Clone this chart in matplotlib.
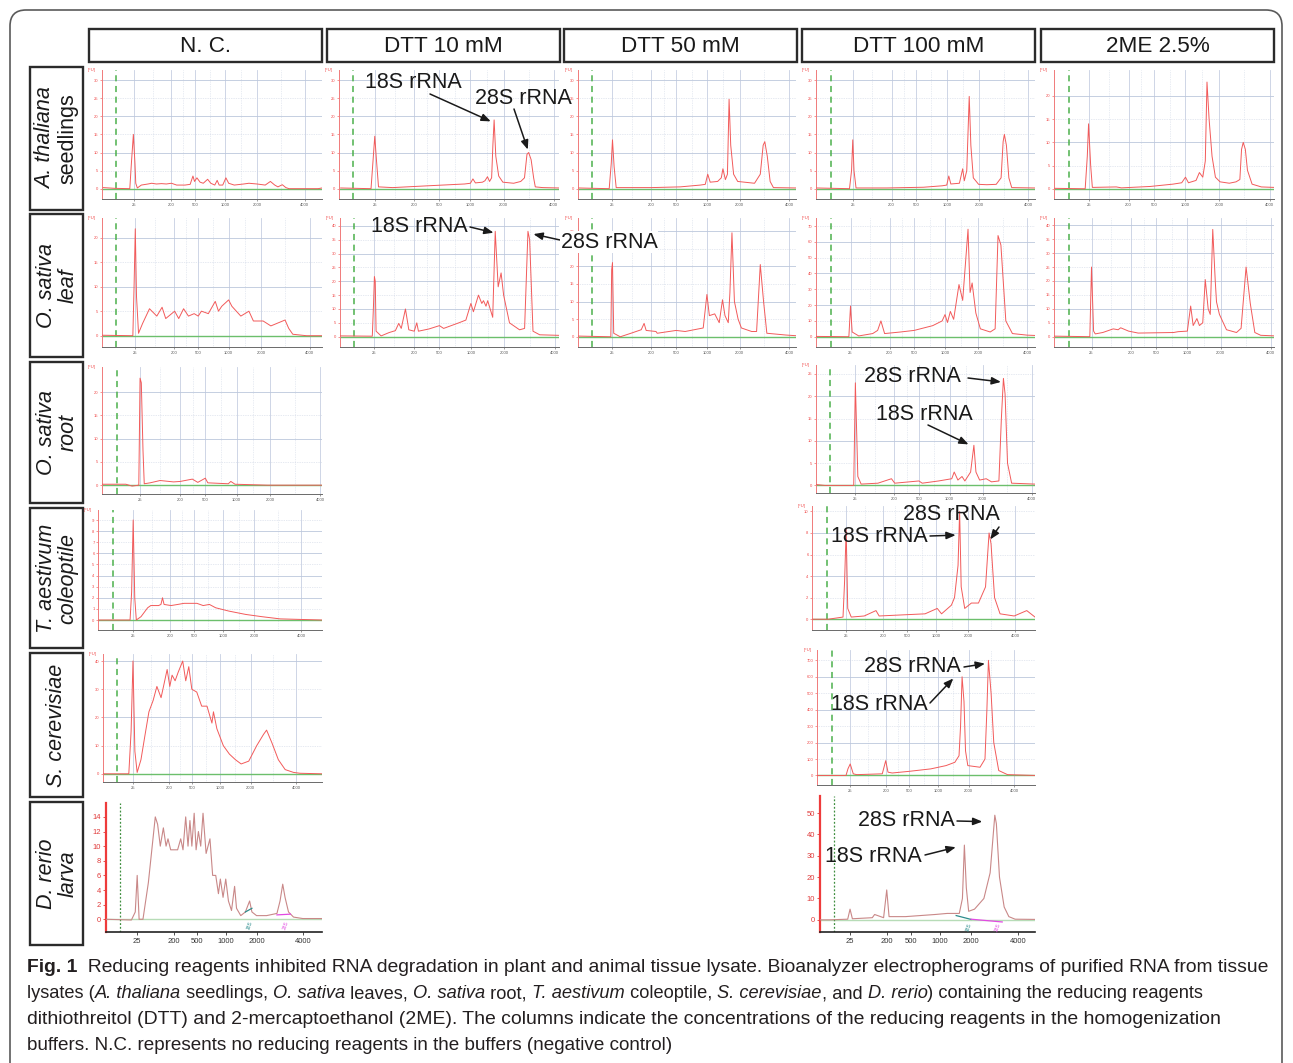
import matplotlib
matplotlib.use("Agg")
import numpy as np
import matplotlib.pyplot as plt
from matplotlib.patches import Rectangle, FancyBboxPatch
from matplotlib.transforms import IdentityTransform

W, H = 1293, 1063
FONT = ["Liberation Sans", "DejaVu Sans"]
plt.rcParams["font.family"] = FONT

# --- labels -----------------------------------------------------------------
COLUMNS = ["N. C.", "DTT 10 mM", "DTT 50 mM", "DTT 100 mM", "2ME 2.5%"]
ROW_LABELS = [("A. thaliana", "seedlings"), ("O. sativa", "leaf"), ("O. sativa", "root"),
              ("T. aestivum", "coleoptile"), ("S. cerevisiae", None), ("D. rerio", "larva")]
ROW_SECOND_ITALIC = [False, True, True, True, True, True]

# ladder sizes (nt) and their migration times (s)
SIZE_LABELS = ["25", "200", "500", "1000", "2000", "4000"]
SIZE_TIMES = [25, 34.5, 40.5, 48, 56, 68]

# --- traces: (time s, fluorescence FU) ------------------------------------------
AT_NC = [(17.3, 0.3), (20.2, 0.1), (24.0, 0), (24.4, 7), (24.9, 15), (25.3, 7), (25.5, 1.5),
         (25.9, 0.2), (26.9, 1), (28.6, 1.3), (29.5, 1.5), (30.7, 1.3), (32.0, 1.4), (33.2, 1.3),
         (34.5, 1.5), (35.8, 1.0), (37.9, 1.0), (39.2, 1.2), (39.9, 3.5), (40.3, 2.0), (40.9, 3.0),
         (41.7, 1.8), (42.5, 1.5), (43.6, 2.6), (44.4, 1.5), (45.4, 1.0), (46.0, 2.3), (46.5, 1.0),
         (47.4, 1.0), (48.2, 3.0), (48.9, 1.5), (50.3, 1.0), (52.7, 1.3), (54.0, 1.5), (56.0, 1.3),
         (58.1, 1.0), (59.4, 2.0), (60.5, 1.0), (61.3, 0.5), (62.4, 1.1), (63.3, 0.3), (64.1, 0),
         (71.4, 0), (72.4, 0.2)]
AT_DTT10 = [(16.8, 0.2), (24.1, 0), (24.6, 8), (25.0, 14.5), (25.4, 8), (25.9, 0.5), (29.3, 0.3),
            (37.8, 0.8), (46.6, 1.3), (48.0, 1.5), (48.6, 2.7), (49.2, 1.6), (50.9, 1.8), (51.5, 2.2),
            (52.1, 3.3), (52.6, 2.0), (53.1, 3.0), (53.4, 12), (53.7, 19), (54.1, 9), (54.8, 3.5),
            (55.8, 1.8), (58.4, 1.5), (60.1, 2.0), (61.0, 3.0), (61.6, 9.5), (62.0, 10), (62.6, 8),
            (63.2, 3), (63.6, 0.5), (65.4, 0.3), (69.3, 0.2)]
AT_DTT50 = [(16.8, 0.2), (24.2, 0), (24.7, 7), (25.0, 13.5), (25.4, 6), (25.9, 0.3), (34.5, 0.3),
            (41.5, 0.5), (46.4, 1.0), (47.6, 1.2), (48.2, 4.0), (48.8, 1.8), (50.6, 2.0), (51.5, 3.0),
            (51.9, 5.5), (52.5, 2.5), (53.0, 4.0), (53.4, 24.7), (53.8, 12), (54.5, 4), (55.5, 2),
            (59.6, 1.5), (61.0, 4), (61.7, 12), (62.1, 13), (62.7, 9), (63.4, 2), (64.2, 0.3),
            (69.8, 0.2)]
AT_DTT100 = [(16.2, 0.2), (24.2, 0), (24.7, 5), (25.0, 13.5), (25.3, 5), (25.8, 0.2), (33.4, 0.2),
             (42.3, 0.4), (46.9, 0.8), (48.0, 1.0), (48.5, 3.5), (49.0, 1.3), (51.1, 1.5), (51.6, 4),
             (51.9, 5.5), (52.3, 2.2), (52.9, 5), (53.5, 25.5), (53.9, 12), (54.5, 3), (55.8, 1.2),
             (57.8, 1.1), (60.1, 1.2), (61.3, 3), (61.8, 13), (62.1, 15), (62.6, 12), (63.2, 3),
             (63.9, 0.3), (69.6, 0.2)]
AT_2ME = [(17.0, 0.1), (24.2, 0), (24.7, 7), (25.0, 14), (25.5, 5), (25.9, 0.3), (31.6, 0.4),
          (32.8, 0.2), (39.6, 0.5), (45.0, 1.0), (47.1, 1.3), (48.0, 2.5), (48.7, 1.3), (50.5, 1.8),
          (51.3, 3.5), (52.1, 2.5), (52.7, 6), (53.1, 23), (53.6, 15), (54.3, 7), (55.1, 2.5),
          (56.2, 1.5), (58.4, 1.2), (60.0, 1.5), (60.9, 2), (61.3, 8.5), (61.7, 10), (62.2, 8.5),
          (62.7, 4), (63.8, 1), (66.0, 0.4), (69.0, 0.3)]

OS_LEAF_NC = [(16.8, 0.1), (24.4, 0), (24.7, 10), (25.0, 21.8), (25.3, 8), (25.8, 0.5), (26.8, 2.5),
              (28.5, 5.5), (30.3, 4), (31.6, 5.8), (32.5, 3.5), (34.7, 5), (35.7, 3.5), (36.9, 5.5),
              (38.1, 4), (39.5, 4.5), (40.5, 4), (41.3, 5), (43.0, 4.5), (44.7, 7), (45.5, 5),
              (46.3, 6), (48.0, 7.3), (48.8, 6), (51.0, 4), (53.0, 5), (54.1, 3), (56.5, 3),
              (58.4, 2), (61.9, 3.2), (62.8, 1.5), (63.8, 0.3), (67.2, 0), (71.0, 0)]
OS_LEAF_DTT10 = [(16.8, 0.3), (24.5, 0.2), (24.8, 12), (25.0, 21.7), (25.2, 20), (25.4, 2), (26.6, 0.3),
                 (28.5, 1.5), (30.0, 2.2), (30.8, 4.8), (31.4, 3), (32.4, 10), (33.2, 2.5), (34.5, 2),
                 (35.1, 5), (35.5, 2), (38.0, 2.8), (40.5, 4), (41.5, 3), (45.1, 5), (46.8, 6),
                 (48.0, 12), (48.6, 9), (49.8, 15), (50.6, 12), (51.0, 13), (51.6, 11), (52.0, 13),
                 (53.2, 7), (53.8, 38), (54.5, 18), (55.2, 23), (55.8, 15), (57.2, 5), (59.6, 2.5),
                 (60.8, 3), (61.6, 38), (62.0, 35), (62.8, 2), (64.4, 0.7), (69.0, 0.5)]
OS_LEAF_DTT50 = [(16.6, 0.2), (24.6, 0), (24.8, 19), (25.0, 21), (25.3, 1), (26.9, 0), (29.5, 1),
                 (32.0, 2), (32.7, 3.8), (33.2, 1.8), (35.6, 1.5), (35.9, 1), (40.5, 1.8), (42.7, 1.5),
                 (47.1, 2.5), (48.0, 12), (48.6, 6), (49.9, 6.5), (51.0, 4), (51.8, 10.5), (52.4, 6),
                 (53.2, 4), (53.6, 12.5), (54.1, 29.5), (54.7, 10), (55.6, 5), (56.4, 2.5), (58.9, 1.5),
                 (60.1, 1.5), (61.0, 20.5), (61.8, 10), (62.6, 1), (67.2, 0.5), (69.7, 0.3)]
OS_LEAF_DTT100 = [(16.6, 0.2), (24.6, 0), (25.0, 19.4), (25.4, 3), (27.0, 0.5), (30.4, 2), (31.6, 4),
                  (32.4, 10), (33.3, 2), (37.2, 3), (40.5, 4), (45.0, 7), (47.3, 10), (48.0, 14),
                  (48.6, 9), (49.3, 16), (50.1, 11), (51.4, 33), (52.3, 23), (53.6, 68), (54.1, 28),
                  (54.6, 34), (55.5, 15), (56.6, 5), (59.0, 3), (60.2, 5), (60.9, 64), (61.6, 58),
                  (62.8, 10), (64.4, 2), (68.0, 1), (69.9, 0.8)]
OS_LEAF_2ME = [(16.0, 0.2), (24.6, 0), (25.0, 25), (25.5, 2), (25.9, 1), (27.7, 1.5), (30.2, 2.8),
               (31.4, 2.5), (32.0, 3.2), (33.9, 2), (36.2, 1.3), (44.7, 1.5), (45.8, 1.8), (48.0, 2),
               (48.8, 11), (49.4, 4), (50.3, 6.5), (50.9, 4), (51.7, 5), (52.3, 20.5), (53.0, 10),
               (53.5, 8), (54.1, 38.5), (54.7, 20), (55.0, 12.5), (55.7, 8), (57.4, 2.5), (59.8, 1.5),
               (60.9, 3), (62.1, 25), (63.1, 12), (64.2, 1.5), (65.6, 0.5), (68.8, 0.3)]

OS_ROOT_NC = [(15.8, 0.2), (21.5, 0.2), (23.0, -0.2), (24.6, 0), (24.9, 23), (25.2, 22), (25.6, 7.5),
              (25.9, 0.3), (27.3, 0.5), (29.7, 1), (32.9, 0.7), (34.5, 0.8), (37.4, 1.3), (38.7, 0.6),
              (40.5, 1.5), (41.1, 0.5), (46.0, 0.3), (46.6, 0.8), (47.6, 0.2), (55.4, 0), (68.4, 0)]
OS_ROOT_DTT100 = [(15.4, 0.2), (17.6, 0), (24.6, 0), (25.0, 23), (25.6, 2), (26.4, 0.3), (30.5, 0.5),
                  (33.8, 1.5), (34.6, 0.5), (40.5, 1), (41.3, 0.5), (45.3, 1), (48.5, 1.5), (49.1, 3),
                  (50.0, 1.2), (51.0, 2), (51.7, 1), (53.1, 3), (53.9, 9), (54.4, 3), (55.3, 1.2),
                  (56.9, 1.5), (58.2, 0.8), (60.0, 1), (60.6, 15), (61.1, 24), (61.5, 20.5), (62.1, 5),
                  (63.1, 0.5), (68.8, 0.3)]

TA_NC = [(16.0, 0), (24.2, 0), (24.6, 2.5), (25.0, 9), (25.4, 2), (25.8, 0), (27.0, 0.3), (28.7, 1.1),
         (29.5, 1.3), (31.5, 1.3), (32.1, 1.4), (32.5, 2.0), (32.9, 1.4), (34.7, 1.3), (36.4, 1.4),
         (38.0, 1.5), (40.5, 1.5), (41.3, 1.5), (42.9, 1.3), (44.5, 1.4), (46.1, 1.1), (49.5, 0.8),
         (53.8, 0.5), (57.9, 0.3), (62.6, 0.1), (67.9, 0.05), (73.3, 0)]
TA_DTT100 = [(16.3, 0), (20.4, 0), (24.2, 0.2), (24.6, 3.5), (25.0, 8.3), (25.4, 1), (26.3, 0.2),
             (29.6, 0.3), (32.6, 0.8), (33.4, 0.3), (45.1, 0.5), (48.2, 1), (49.3, 0.5), (51.8, 1.3),
             (52.6, 2), (53.5, 5), (53.9, 10), (54.3, 3), (55.2, 1), (56.9, 1.5), (58.7, 1.5),
             (60.5, 3), (61.4, 8), (61.9, 7), (62.8, 2), (64.2, 0.5), (67.8, 0.3), (71.0, 0.8),
             (73.1, 0.2)]

SC_NC = [(17.1, 0), (23.9, 0), (24.5, 15), (25.0, 40), (25.5, 8), (26.1, 0.5), (27.1, 5), (28.2, 14),
         (29.2, 22), (30.3, 26), (31.3, 31), (32.4, 27), (34.0, 37), (34.7, 31), (35.3, 35), (36.1, 33),
         (36.9, 36), (38.1, 40), (38.9, 33), (39.7, 38), (40.5, 30), (41.8, 29), (43.1, 24),
         (44.5, 24), (45.8, 18), (46.2, 22), (47.1, 16), (48.8, 10), (50.4, 7), (52.0, 5),
         (53.5, 3.5), (55.5, 4.5), (57.6, 10), (59.4, 14), (60.2, 15.5), (61.6, 11), (63.3, 5),
         (65.1, 1.5), (67.3, 0.5), (69.0, 0.2), (74.8, 0)]
SC_DTT100 = [(16.3, 0), (23.9, 0), (24.4, 40), (25.0, 70), (25.8, 10), (26.7, 5), (33.4, 10), (34.3, 90),
             (34.9, 20), (36.0, 15), (40.4, 25), (46.1, 40), (50.1, 60), (52.4, 80), (53.5, 120),
             (53.9, 300), (54.3, 600), (54.8, 450), (55.2, 150), (55.8, 60), (59.0, 50), (60.3, 100),
             (60.8, 400), (61.2, 700), (61.9, 500), (62.6, 200), (63.9, 30), (66.2, 5), (73.4, 0)]

DR_NC = [(16.9, 0), (23.5, -0.1), (24.5, 1), (25.0, 6), (25.5, 0), (26.5, 0), (27.9, 5), (28.9, 10),
         (29.7, 14), (30.3, 13), (31.0, 10), (31.8, 12.5), (32.5, 10), (33.0, 11), (33.7, 9.5),
         (34.7, 9.5), (35.5, 9.5), (36.3, 11), (36.9, 9.5), (37.6, 14), (38.2, 10), (38.7, 13.5),
         (39.2, 10), (39.8, 14.5), (40.3, 9.5), (40.9, 12), (41.5, 10), (42.1, 14.5), (42.9, 9),
         (43.9, 11), (44.6, 6), (45.4, 6), (46.1, 3.5), (46.6, 5.5), (47.3, 3), (48.0, 5.5),
         (48.7, 2.5), (49.5, 1.2), (50.3, 4.5), (50.8, 1.5), (51.9, 0.5), (53.1, 1), (54.2, 2.5),
         (54.8, 1), (56.0, 0.5), (58.6, 0.5), (61.3, 0.8), (62.1, 2.5), (62.8, 4.8), (63.4, 3),
         (64.3, 1), (65.6, 0.3), (68.0, 0.1), (73.0, 0.1)]
DR_DTT100 = [(17.3, 0), (19.8, 0), (24.4, 0.3), (25.0, 5), (25.6, 0.5), (30.7, 1), (31.3, 2.5),
             (33.6, 1), (34.4, 14), (35.0, 1.5), (39.2, 1.5), (46.8, 2.5), (49.9, 3), (53.0, 3),
             (53.8, 10), (54.3, 35), (54.8, 15), (55.4, 4), (56.9, 5), (59.3, 10), (60.9, 22),
             (61.7, 40), (62.1, 49), (62.5, 45), (63.3, 20), (64.5, 6), (65.7, 1.5), (67.3, 0.3),
             (72.4, 0.2)]
# rRNA region markers of the zebrafish runs
DR_NC_18S = [(53.1, 1.0), (54.8, 1.5)]
DR_NC_28S = [(61.3, 0.6), (64.8, 0.7)]
DR_DTT100_18S = [(52.2, 2.0), (56.0, 0.2)]
DR_DTT100_28S = [(56.0, 0.3), (64.0, -1.0)]

# (row, col, trace, yticks, ylim, xlim, dashed-line time, pixel box L, R, T, B, style)
PANELS = [
    (0, 0, AT_NC, range(0, 31, 5), (-2.85, 32.8), (17.0, 72.4), 20.5, (102, 322, 70, 199), "bio"),
    (0, 1, AT_DTT10, range(0, 31, 5), (-2.85, 32.8), (16.4, 69.3), 19.8, (339, 559, 70, 199), "bio"),
    (0, 2, AT_DTT50, range(0, 31, 5), (-2.85, 32.8), (16.6, 69.7), 19.9, (578, 796, 70, 199), "bio"),
    (0, 3, AT_DTT100, range(0, 31, 5), (-2.85, 32.8), (16.0, 69.6), 19.6, (816, 1035, 70, 199), "bio"),
    (0, 4, AT_2ME, range(0, 21, 5), (-2.2, 25.6), (16.8, 69.0), 20.3, (1054, 1274, 70, 199), "bio"),
    (1, 0, OS_LEAF_NC, range(0, 21, 5), (-2.3, 24.0), (16.8, 71.0), 20.3, (102, 322, 218, 347), "bio"),
    (1, 1, OS_LEAF_DTT10, range(0, 41, 5), (-3.7, 42.8), (16.8, 69.0), 20.1, (340, 559, 218, 347), "bio"),
    (1, 2, OS_LEAF_DTT50, range(0, 31, 5), (-2.9, 33.7), (16.6, 69.7), 19.9, (578, 796, 218, 347), "bio"),
    (1, 3, OS_LEAF_DTT100, range(0, 71, 10), (-6.5, 75.1), (16.6, 69.9), 20.2, (816, 1035, 218, 347), "bio"),
    (1, 4, OS_LEAF_2ME, range(0, 41, 5), (-3.7, 42.6), (16.0, 68.8), 19.6, (1054, 1274, 218, 347), "bio"),
    (2, 0, OS_ROOT_NC, range(0, 21, 5), (-1.9, 25.4), (15.8, 68.4), 19.3, (102, 322, 367, 494), "bio"),
    (2, 3, OS_ROOT_DTT100, range(0, 26, 5), (-1.7, 27.0), (15.4, 68.8), 18.9, (816, 1035, 365, 493), "bio"),
    (3, 0, TA_NC, range(0, 10, 1), (-0.9, 9.9), (16.0, 73.3), 19.9, (98, 322, 510, 630), "bio"),
    (3, 3, TA_DTT100, range(0, 11, 2), (-1.0, 10.5), (16.3, 73.1), 20.2, (812, 1035, 506, 630), "bio"),
    (4, 0, SC_NC, range(0, 41, 10), (-2.9, 42.5), (17.1, 74.8), 20.8, (103, 322, 654, 782), "bio"),
    (4, 3, SC_DTT100, range(0, 701, 100), (-58, 763), (16.3, 73.4), 20.2, (817, 1035, 650, 785), "bio"),
    (5, 0, DR_NC, range(0, 15, 2), (-1.74, 15.9), (16.9, 73.0), 20.5, (106, 322, 803, 932), "danio"),
    (5, 3, DR_DTT100, range(0, 51, 10), (-5.7, 58), (17.3, 72.4), 21.0, (820, 1035, 796, 932), "danio"),
]
# y tick values hidden under the neighbouring "28S rRNA" label in the reference
HIDDEN_YTICKS = {(1, 2): [25]}

# (row, col, label, label centre px, arrow tail px, arrow head in data, white backing)
ANNOTATIONS = [
    (0, 1, "18S rRNA", (413, 83), (430, 94), (52.9, 18.6), False),
    (0, 1, "28S rRNA", (523, 98), (514, 109), (61.8, 10.8), False),
    (1, 1, "18S rRNA", (419, 227), (470, 227), (53.4, 37.5), False),
    (1, 1, "28S rRNA", (609, 242), (560, 240), (62.9, 37.0), True),
    (2, 3, "28S rRNA", (912, 377), (968, 378), (60.5, 23.2), False),
    (2, 3, "18S rRNA", (924, 414), (928, 425), (52.6, 9.2), False),
    (3, 3, "28S rRNA", (951, 515), (999, 527), (61.7, 7.4), False),
    (3, 3, "18S rRNA", (879, 537), (930, 536), (52.9, 7.8), False),
    (4, 3, "28S rRNA", (912, 667), (964, 667), (60.3, 680), False),
    (4, 3, "18S rRNA", (879, 704), (930, 703), (52.0, 590), False),
    (5, 3, "28S rRNA", (906, 820), (957, 821), (58.9, 46), False),
    (5, 3, "18S rRNA", (873, 857), (925, 855), (52.1, 34), False),
]

HEADER_X = [(89, 322), (327, 560), (564, 797), (802, 1035), (1041, 1274)]
HEADER_Y = (29, 62)
ROW_BOX_X = (30, 83)
ROW_BOX_Y = [(67, 210), (214, 357), (362, 503), (508, 648), (653, 797), (802, 945)]

CAPTION = [
    [("Fig. 1", "bold"), ("  Reducing reagents inhibited RNA degradation in plant and animal tissue lysate. "
                          "Bioanalyzer electropherograms of purified RNA from tissue", "normal")],
    [("lysates (", "normal"), ("A. thaliana", "italic"), (" seedlings, ", "normal"), ("O. sativa", "italic"),
     (" leaves, ", "normal"), ("O. sativa", "italic"), (" root, ", "normal"), ("T. aestivum", "italic"),
     (" coleoptile, ", "normal"), ("S. cerevisiae", "italic"), (", and ", "normal"), ("D. rerio", "italic"),
     (") containing the reducing reagents", "normal")],
    [("dithiothreitol (DTT) and 2-mercaptoethanol (2ME). The columns indicate the concentrations of the "
      "reducing reagents in the homogenization", "normal")],
    [("buffers. N.C. represents no reducing reagents in the buffers (negative control)", "normal")],
]
CAPTION_Y = [968, 994, 1020, 1046]
CAPTION_END = [1270, 1206, 1218, 678]

RED = "#f04848"
TRACE = "#f25a5a"
GREEN = "#6cbf6c"


def fig_box(L, R, T, B):
    return [L / W, 1 - B / H, (R - L) / W, (B - T) / H]


fig = plt.figure(figsize=(W / 100, H / 100), dpi=100)
fig.patch.set_facecolor("white")

# outer rounded frame
fig.add_artist(FancyBboxPatch((10, -60), W - 21, H - 10 + 60, boxstyle="round,pad=0,rounding_size=16",
                              transform=IdentityTransform(), fill=False, ec="#5a5a5a", lw=1.2))

# column headers
for (x0, x1), name in zip(HEADER_X, COLUMNS):
    fig.add_artist(Rectangle((x0 / W, 1 - HEADER_Y[1] / H), (x1 - x0) / W, (HEADER_Y[1] - HEADER_Y[0]) / H,
                             transform=fig.transFigure, fill=False, ec="#2b2b2b", lw=1.7))
    fig.text((x0 + x1) / 2 / W, 1 - (sum(HEADER_Y) / 2 + 1) / H, name, ha="center", va="center",
             fontsize=16.2, color="#1a1a1a")

# row labels
for (y0, y1), (l1, l2), it2 in zip(ROW_BOX_Y, ROW_LABELS, ROW_SECOND_ITALIC):
    x0, x1 = ROW_BOX_X
    fig.add_artist(Rectangle((x0 / W, 1 - y1 / H), (x1 - x0) / W, (y1 - y0) / H,
                             transform=fig.transFigure, fill=False, ec="#2b2b2b", lw=1.7))
    yc = 1 - (y0 + y1) / 2 / H
    if l2 is None:
        fig.text((x0 + x1) / 2 / W, yc, l1, rotation=90, ha="center", va="center",
                 fontsize=15.5, style="italic", color="#1a1a1a")
    else:
        fig.text(46 / W, yc, l1, rotation=90, ha="center", va="center", fontsize=15.5,
                 style="italic", color="#1a1a1a")
        fig.text(68 / W, yc, l2, rotation=90, ha="center", va="center", fontsize=15.5,
                 style="italic" if it2 else "normal", color="#1a1a1a")

axes = {}
for row, col, trace, yt, ylim, xlim, tdash, box, style in PANELS:
    ax = fig.add_axes(fig_box(*box))
    axes[(row, col)] = ax
    t = [p[0] for p in trace]
    fu = [p[1] for p in trace]
    ax.set_xlim(*xlim)
    ax.set_ylim(*ylim)
    yt = list(yt)
    hidden = HIDDEN_YTICKS.get((row, col), [])
    ylabels = ["" if v in hidden else str(v) for v in yt]
    for s in ("top", "right"):
        ax.spines[s].set_visible(False)
    if style == "bio":
        for x in SIZE_TIMES:
            ax.axvline(x, color="#c6cfe2", lw=0.6, zorder=0)
        for a, b in zip(SIZE_TIMES[:-1], SIZE_TIMES[1:]):
            ax.axvline((a + b) / 2, color="#d3dae8", lw=0.5, ls=(0, (1, 1.5)), zorder=0)
        for i, v in enumerate(yt):
            if v == 0:
                continue
            if i % 2 == 0:
                ax.axhline(v, color="#bcc7dc", lw=0.6, zorder=0)
            else:
                ax.axhline(v, color="#ccd4e4", lw=0.5, ls=(0, (1, 1.5)), zorder=0)
        ax.axhline(0, color=GREEN, lw=1.0, zorder=2)
        ax.axvline(tdash, color="#4cb04c", lw=1.1, ls=(0, (4, 3)), zorder=2)
        ax.plot(t, fu, color=TRACE, lw=0.7, zorder=3)
        ax.spines["left"].set_color("#f07a7a")
        ax.spines["left"].set_linewidth(0.7)
        ax.spines["bottom"].set_color("#6a6a6a")
        ax.spines["bottom"].set_linewidth(0.7)
        ax.set_xticks(SIZE_TIMES, SIZE_LABELS)
        ax.set_yticks(yt, ylabels)
        ax.tick_params(axis="x", labelsize=3, length=1.5, width=0.4, colors="#555555", pad=1.5)
        ax.tick_params(axis="y", labelsize=3, length=1.5, width=0.4, colors=RED, pad=1)
        ax.text(-0.045, 1.0, "[FU]", transform=ax.transAxes, fontsize=3, color=RED,
                ha="center", va="center")
    else:
        ax.axhline(0, color="#b7dcb7", lw=1.0, zorder=2)
        ax.axvline(tdash, color="#3f8f3f", lw=0.9, ls=(0, (1.5, 1.5)), zorder=2)
        ax.plot(t, fu, color="#c98888", lw=0.8, zorder=3)
        ax.spines["left"].set_color("#ee3b3b")
        ax.spines["left"].set_linewidth(1.6)
        ax.spines["bottom"].set_color("#222222")
        ax.spines["bottom"].set_linewidth(1.2)
        ax.set_xticks(SIZE_TIMES, SIZE_LABELS)
        ax.set_yticks(yt, ylabels)
        ax.tick_params(axis="x", labelsize=5.5, length=2, width=0.6, colors="#333333", pad=2)
        ax.tick_params(axis="y", labelsize=5.5, length=2, width=0.6, colors="#e03a3a", pad=1.5)
    ax.set_facecolor("white")

# zebrafish 18S / 28S region markers
for key, seg18, seg28, ylab in [((5, 0), DR_NC_18S, DR_NC_28S, -0.9), ((5, 3), DR_DTT100_18S, DR_DTT100_28S, -3.5)]:
    ax = axes[key]
    ax.plot([p[0] for p in seg18], [p[1] for p in seg18], color="#2c8c8c", lw=0.9, zorder=4)
    ax.plot([p[0] for p in seg28], [p[1] for p in seg28], color="#e24ae2", lw=0.9, zorder=4)
    ax.text(seg18[-1][0] - 0.6, ylab, "18S", fontsize=3.5, color="#2c8c8c", rotation=70,
            ha="center", va="center")
    ax.text(seg28[-1][0] - 1.2, ylab, "28S", fontsize=3.5, color="#e24ae2", rotation=70,
            ha="center", va="center")

# rRNA annotations
for row, col, label, (tx, ty), (ax0, ay0), head, backed in ANNOTATIONS:
    ax = axes[(row, col)]
    extra = dict(bbox=dict(facecolor="white", edgecolor="none", pad=0.3)) if backed else {}
    fig.text(tx / W, 1 - ty / H, label, ha="center", va="center", fontsize=15.5, color="#1a1a1a",
             zorder=10, **extra)
    ax.annotate("", xy=head, xycoords="data", xytext=(ax0 / W, 1 - ay0 / H),
                textcoords="figure fraction", annotation_clip=False,
                arrowprops=dict(arrowstyle="-|>,head_length=0.55,head_width=0.22", color="#1a1a1a",
                                lw=1.1, shrinkA=0, shrinkB=0), zorder=10)

# caption with mixed styles, each line fitted to the reference line width
renderer = fig.canvas.get_renderer()


def seg_width(text, **kw):
    a = fig.text(0, 0, text + "|", **kw)
    b = fig.text(0, 0, "|", **kw)
    w = a.get_window_extent(renderer=renderer).width - b.get_window_extent(renderer=renderer).width
    a.remove()
    b.remove()
    return w


def seg_kw(kind, size):
    return dict(fontsize=size, color="#231f20",
                fontweight="bold" if kind == "bold" else "normal",
                style="italic" if kind == "italic" else "normal")


for segs, yline, xend in zip(CAPTION, CAPTION_Y, CAPTION_END):
    total = sum(seg_width(text, **seg_kw(kind, 12)) for text, kind in segs)
    size = 12 * (xend - 27) / total
    x = 27
    for text, kind in segs:
        kw = seg_kw(kind, size)
        fig.text(x / W, 1 - yline / H, text, ha="left", va="center", **kw)
        x += seg_width(text, **kw)

fig.savefig("out.png", dpi=100, facecolor="white")
